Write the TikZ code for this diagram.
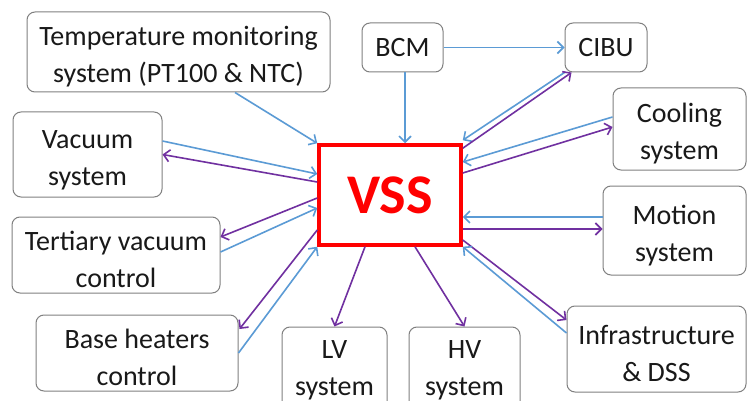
\documentclass[tikz,border=0pt]{standalone}
\usepackage{fontspec}
\setmainfont{Carlito}
\usetikzlibrary{arrows.meta}
\definecolor{ablue}{RGB}{91,155,213}
\definecolor{apurple}{RGB}{112,48,160}
\definecolor{boxgray}{RGB}{128,128,128}
\newcommand{\topst}{\rule{0pt}{29pt}}
\begin{document}
\begin{tikzpicture}[x=1pt,y=-1pt,
  box/.style={draw=boxgray, line width=1pt, rounded corners=8pt, fill=white, align=center, inner sep=0pt, font=\fontsize{28}{37}\selectfont, text=black!90},
  blu/.style={draw=ablue, line width=1.6pt, -{Straight Barb[length=6pt,width=12pt]}},
  pur/.style={draw=apurple, line width=1.6pt, -{Straight Barb[length=6pt,width=12pt]}}]
\clip (0,0) rectangle (747,401);
\fill[white] (0,0) rectangle (747,401);
% nodes
\node[box, minimum width=303pt, minimum height=80pt] (temp) at (178.5,52) {\topst Temperature monitoring\\system (PT100 \& NTC)};
\node[box, minimum width=81pt, minimum height=49pt] (bcm) at (402.5,47.5) {BCM};
\node[box, minimum width=82pt, minimum height=49pt] (cibu) at (606,47.5) {CIBU};
\node[box, minimum width=149pt, minimum height=85pt] (vac) at (87.5,154.5) {\topst Vacuum\\system};
\node[box, minimum width=133pt, minimum height=82pt] (cool) at (679.5,129) {\topst Cooling\\system};
\node[box, minimum width=143pt, minimum height=89pt] (motion) at (674.5,230.5) {\topst Motion\\system};
\node[box, minimum width=179pt, minimum height=86pt] (infra) at (656.5,349) {\topst Infrastructure\\\& DSS};
\node[box, minimum width=208pt, minimum height=76pt] (tert) at (116,255) {\topst Tertiary vacuum\\control};
\node[box, minimum width=202pt, minimum height=76pt] (base) at (137,353) {\topst Base heaters\\control};
\node[box, minimum width=105pt, minimum height=86pt] (lv) at (334.5,370) {LV\\system};
\node[box, minimum width=111pt, minimum height=86pt] (hv) at (464.5,370) {HV\\system};
\node[draw=red, line width=3.5pt, fill=white, minimum width=142pt, minimum height=100pt, inner sep=0pt, text=red, font=\fontsize{56}{60}\selectfont\bfseries] (vss) at (390,195) {VSS};
% connectors
\draw[blu] ([shift={(56.5,0)}]temp.south) -- (vss.north west);
\draw[blu] (bcm.east) -- (cibu.west);
\draw[blu] ([shift={(2.5,0)}]bcm.south) -- ([shift={(15,0)}]vss.north);
\draw[blu] ([shift={(0,-13.5)}]vac.east) -- ([shift={(0,-21)}]vss.west);
\draw[pur] ([shift={(0,-13)}]vss.west) -- (vac.east);
\draw[pur] ([shift={(0,3)}]vss.west) -- ([shift={(0,-18)}]tert.east);
\draw[blu] ([shift={(0,-3)}]tert.east) -- ([shift={(0,13)}]vss.west);
\draw[pur] ([shift={(0,35)}]vss.west) -- ([shift={(1,-24)}]base.east);
\draw[blu] (base.east) -- (vss.south west);
\draw[pur] ([shift={(-25,0)}]vss.south) -- (lv.north);
\draw[pur] ([shift={(25,0)}]vss.south) -- (hv.north);
\draw[pur] ([shift={(0,45)}]vss.east) -- ([shift={(0,-29)}]infra.west);
\draw[blu] ([shift={(0,-16)}]infra.west) -- (vss.south east);
\draw[blu] ([shift={(0,-13.5)}]motion.west) -- ([shift={(0,22)}]vss.east);
\draw[pur] ([shift={(0,34)}]vss.east) -- ([shift={(0,-1.5)}]motion.west);
\draw[blu] ([shift={(0,-12)}]cool.west) -- ([shift={(0,-33)}]vss.east);
\draw[pur] ([shift={(0,-22)}]vss.east) -- ([shift={(0,-2)}]cool.west);
\draw[blu] (cibu.south west) -- ([shift={(0,-3)}]vss.north east);
\draw[pur] ([shift={(0,5)}]vss.north east) -- ([shift={(7,0)}]cibu.south west);
\end{tikzpicture}
\end{document}
